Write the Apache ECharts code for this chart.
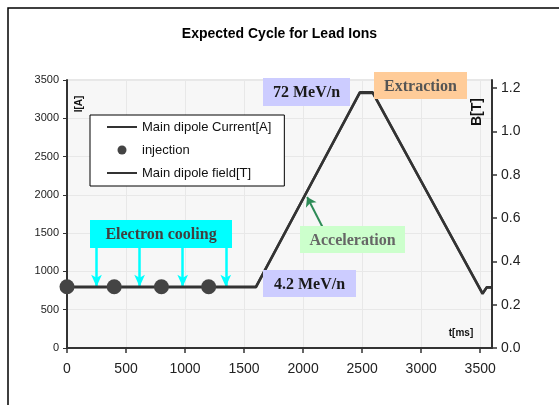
<!DOCTYPE html>
<html>
<head>
<meta charset="utf-8">
<title>Expected Cycle for Lead Ions</title>
<script src="https://cdn.jsdelivr.net/npm/echarts@6/dist/echarts.min.js"></script>
<style>
  html, body { margin: 0; padding: 0; background: #fff; }
  #chart { width: 559px; height: 405px; }
</style>
</head>
<body>
<div id="chart"></div>
<script>
// 数据
const cycleTime = [0, 1600, 2480, 2590, 3520, 3555, 3600];      // t[ms]
const dipoleCurrent = [800, 800, 3330, 3330, 715, 790, 790];     // I[A]
const dipoleField = [0.28, 0.28, 1.18, 1.18, 0.25, 0.28, 0.28];  // B[T]
const injectionTime = [0, 400, 800, 1200];
const injectionCurrent = [800, 800, 800, 800];
const coolingTime = [250, 615, 980, 1345];

const chart = echarts.init(document.getElementById('chart'));

const serif = '"Liberation Serif", "Times New Roman", serif';
const sans = '"Liberation Sans", Arial, sans-serif';

// 注释框：矩形 + 文字，分开画
function box(x, y, w, h, bg, text, color) {
  return [
    { type: 'rect', z: 100, shape: { x: x, y: y, width: w, height: h },
      style: { fill: bg, stroke: null, opacity: 1 } },
    { type: 'text', z: 101, x: x + w / 2, y: y + h / 2 + 1,
      style: { text: text, fill: color, font: 'bold 16px ' + serif, align: 'center', verticalAlign: 'middle' } }
  ];
}

const lineIcon = 'path://M0,0H30V2H0Z';

const option = {
  animation: false,
  backgroundColor: '#fff',
  title: {
    text: 'Expected Cycle for Lead Ions',
    left: 'center', top: 22,
    textStyle: { fontFamily: sans, fontSize: 14, fontWeight: 'bold', color: '#000' }
  },
  grid: {
    left: 67, right: 67, top: 80, bottom: 57,
    show: true, backgroundColor: '#f7f7f7', borderColor: '#cfcfcf', borderWidth: 1
  },
  legend: {
    orient: 'vertical', left: 90, top: 115,
    padding: [5, 13, 6, 17],
    itemWidth: 30, itemHeight: 9, itemGap: 9,
    backgroundColor: '#fff', borderColor: '#000', borderWidth: 1,
    textStyle: { fontFamily: sans, fontSize: 13, lineHeight: 14, color: '#111' },
    data: [
      { name: 'Main dipole Current[A]', icon: lineIcon },
      { name: 'injection', icon: 'circle' },
      { name: 'Main dipole field[T]', icon: lineIcon }
    ]
  },
  xAxis: {
    type: 'value', min: 0, max: 3600, interval: 500,
    axisLine: { lineStyle: { color: '#333', width: 2 } },
    axisTick: { length: 5, lineStyle: { color: '#333', width: 1.5 } },
    axisLabel: { showMaxLabel: false, fontFamily: sans, fontSize: 14, color: '#222', margin: 14,
                 formatter: v => String(v) },
    splitLine: { lineStyle: { color: '#e8e8e8' } }
  },
  yAxis: [
    {
      type: 'value', min: 0, max: 3500, interval: 500,
      axisLine: { show: true, lineStyle: { color: '#333', width: 2 } },
      axisTick: { show: true, length: 4, lineStyle: { color: '#333' } },
      axisLabel: { fontFamily: sans, fontSize: 11, color: '#222', margin: 8,
                   formatter: v => String(v) },
      splitLine: { lineStyle: { color: '#e8e8e8' } }
    },
    {
      type: 'value', position: 'right', min: 0, max: 1.237, interval: 0.2,
      axisLine: { show: true, lineStyle: { color: '#333', width: 2 } },
      axisTick: { show: true, length: 5, lineStyle: { color: '#333', width: 1.5 } },
      axisLabel: { showMaxLabel: false, fontFamily: sans, fontSize: 14, color: '#222', margin: 9,
                   formatter: v => v.toFixed(1) },
      splitLine: { show: false }
    }
  ],
  series: [
    {
      name: 'Main dipole Current[A]', type: 'line', yAxisIndex: 0,
      symbol: 'none', z: 5,
      lineStyle: { color: '#333', width: 2.5 },
      itemStyle: { color: '#333' },
      data: cycleTime.map((t, i) => [t, dipoleCurrent[i]]),
      markLine: {
        silent: true, symbol: ['none', 'arrow'], symbolSize: 9,
        label: { show: false },
        lineStyle: { color: '#2e8b57', width: 2, type: 'solid' },
        data: [[{ coord: [2186, 1515] }, { coord: [2034, 1972] }]]
      }
    },
    {
      name: 'Main dipole field[T]', type: 'line', yAxisIndex: 1,
      symbol: 'none', z: 4,
      lineStyle: { color: '#333', width: 2.5 },
      itemStyle: { color: '#333' },
      data: cycleTime.map((t, i) => [t, dipoleField[i]])
    },
    {
      name: 'injection', type: 'scatter', yAxisIndex: 0,
      symbolSize: 15, clip: false, z: 6,
      itemStyle: { color: '#444', opacity: 1 },
      data: injectionTime.map((t, i) => [t, injectionCurrent[i]]),
      markLine: {
        silent: true, symbol: ['none', 'arrow'], symbolSize: [8, 12],
        label: { show: false },
        lineStyle: { color: '#00ffff', width: 2.5, type: 'solid' },
        data: coolingTime.map(t => [{ coord: [t, 1306] }, { coord: [t, 800] }])
      }
    }
  ],
  graphic: [
    // 外框
    { type: 'rect', shape: { x: 8, y: 8, width: 700, height: 700 },
      style: { fill: 'none', stroke: '#000', lineWidth: 1.5 }, z: 0 },
    { type: 'text', x: 79, y: 104, rotation: Math.PI / 2, z: 100,
      style: { text: 'I[A]', font: 'bold 10px ' + sans, fill: '#111', align: 'center', verticalAlign: 'middle' } },
    { type: 'text', x: 477, y: 112, rotation: Math.PI / 2, z: 100,
      style: { text: 'B[T]', font: 'bold 14px ' + sans, fill: '#111', align: 'center', verticalAlign: 'middle' } },
    { type: 'text', x: 461, y: 333, z: 100,
      style: { text: 't[ms]', font: 'bold 10px ' + sans, fill: '#111', align: 'center', verticalAlign: 'middle' } }
  ].concat(
    box(90, 220, 142, 28, '#00ffff', 'Electron cooling', '#404040'),
    box(263, 270, 93, 27, '#ccccff', '4.2 MeV/n', '#1a1a1a'),
    box(263, 78, 87, 28, '#ccccff', '72 MeV/n', '#1a1a1a'),
    box(374, 72, 93, 27, '#ffcc99', 'Extraction', '#555'),
    box(300, 226, 105, 27, '#ccffcc', 'Acceleration', '#666')
  )
};

chart.setOption(option);
</script>
</body>
</html>
